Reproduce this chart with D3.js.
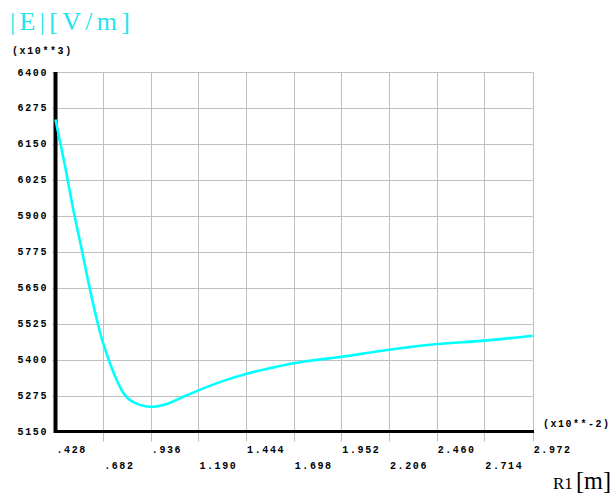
<!DOCTYPE html>
<html>
<head>
<meta charset="utf-8">
<script src="https://cdn.jsdelivr.net/npm/d3@7"></script>
<style>
  body { margin: 0; background: #fff; }
  text { font-family: "Liberation Mono", "DejaVu Sans Mono", monospace; }
  text.serif { font-family: "Liberation Serif", "DejaVu Serif", serif; }
</style>
</head>
<body>
<div id="chart"></div>
<script>
// data: R1 (x10**-2 m) and |E| (x10**3 V/m)
const r1 = [0.428, 0.479, 0.523, 0.568, 0.612, 0.674, 0.701, 0.745, 0.790, 0.843,
  0.937, 1.021, 1.110, 1.216, 1.323, 1.448, 1.572, 1.696, 1.821, 1.945,
  2.159, 2.464, 2.715, 2.972];
const eField = [6235, 6072, 5921, 5782, 5643, 5475, 5420, 5343, 5284, 5252,
  5236, 5246, 5271, 5300, 5326, 5351, 5370, 5387, 5399, 5409,
  5430, 5454, 5466, 5483];

const xTicks = [0.428, 0.682, 0.936, 1.190, 1.444, 1.698, 1.952, 2.206, 2.460, 2.714, 2.972];
const xTickLabels = [".428", ".682", ".936", "1.190", "1.444", "1.698", "1.952", "2.206", "2.460", "2.714", "2.972"];
const yTicks = [5150, 5275, 5400, 5525, 5650, 5775, 5900, 6025, 6150, 6275, 6400];

const width = 615, height = 495;
const plot = { left: 55.5, right: 532.7, top: 72, bottom: 431.5 };

const svg = d3.select("#chart").append("svg")
  .attr("width", width)
  .attr("height", height);

const x = d3.scaleLinear().domain([0.428, 2.972]).range([plot.left, plot.right]);
const y = d3.scaleLinear().domain([5150, 6400]).range([plot.bottom, plot.top]);

// grid
svg.append("g")
  .selectAll("line.vgrid")
  .data(xTicks.slice(1))
  .join("line")
  .attr("x1", d => Math.round(x(d)) + 0.5)
  .attr("x2", d => Math.round(x(d)) + 0.5)
  .attr("y1", plot.top)
  .attr("y2", plot.bottom + 10)
  .attr("stroke", "#c0c0c0")
  .attr("stroke-width", 1);

svg.append("g")
  .selectAll("line.hgrid")
  .data(yTicks.slice(1))
  .join("line")
  .attr("x1", plot.left - 3)
  .attr("x2", plot.right)
  .attr("y1", d => Math.round(y(d)) + 0.5)
  .attr("y2", d => Math.round(y(d)) + 0.5)
  .attr("stroke", "#c0c0c0")
  .attr("stroke-width", 1);

// axes (thick black lines)
svg.append("line")
  .attr("x1", plot.left).attr("x2", plot.left)
  .attr("y1", plot.top).attr("y2", plot.bottom + 1.5)
  .attr("stroke", "#000").attr("stroke-width", 4);
svg.append("line")
  .attr("x1", plot.left).attr("x2", Math.round(plot.right) + 1)
  .attr("y1", plot.bottom).attr("y2", plot.bottom)
  .attr("stroke", "#000").attr("stroke-width", 3);

// y tick labels
svg.append("g")
  .selectAll("text")
  .data(yTicks)
  .join("text")
  .attr("x", 48)
  .attr("y", d => y(d) + 3.5)
  .attr("text-anchor", "end")
  .attr("font-size", 10)
  .attr("font-weight", "bold")
  .attr("letter-spacing", 1.6)
  .attr("fill", "#000")
  .text(d => d);

// x tick labels, alternating rows
svg.append("g")
  .selectAll("text")
  .data(xTicks)
  .join("text")
  .attr("x", d => x(d) + 1)
  .attr("y", (d, i) => i % 2 === 0 ? 453 : 469)
  .attr("font-size", 10)
  .attr("font-weight", "bold")
  .attr("letter-spacing", 1.6)
  .attr("fill", "#000")
  .text((d, i) => xTickLabels[i]);

// curve
const line = d3.line()
  .x((d, i) => x(r1[i]))
  .y(d => y(d))
  .curve(d3.curveMonotoneX);

svg.append("path")
  .datum(eField)
  .attr("d", line)
  .attr("fill", "none")
  .attr("stroke", "#00ffff")
  .attr("stroke-width", 2.6)
  .attr("stroke-linejoin", "round");

// titles
svg.append("text")
  .attr("class", "serif")
  .attr("x", 10).attr("y", 30)
  .attr("font-size", 26)
  .attr("textLength", 120)
  .attr("lengthAdjust", "spacing")
  .attr("fill", "#22e4ec")
  .text("|E|[V/m]");

svg.append("text")
  .attr("x", 12).attr("y", 54)
  .attr("font-size", 10)
  .attr("font-weight", "bold")
  .attr("letter-spacing", 1.6)
  .text("(x10**3)");

svg.append("text")
  .attr("x", 543).attr("y", 427)
  .attr("font-size", 10)
  .attr("font-weight", "bold")
  .attr("letter-spacing", 1.5)
  .text("(x10**-2)");

svg.append("text")
  .attr("class", "serif")
  .attr("x", 553).attr("y", 489)
  .attr("font-size", 17)
  .text("R1");
svg.append("text")
  .attr("class", "serif")
  .attr("x", 576).attr("y", 489)
  .attr("font-size", 26)
  .attr("textLength", 35)
  .attr("lengthAdjust", "spacingAndGlyphs")
  .text("[m]");
</script>
</body>
</html>
